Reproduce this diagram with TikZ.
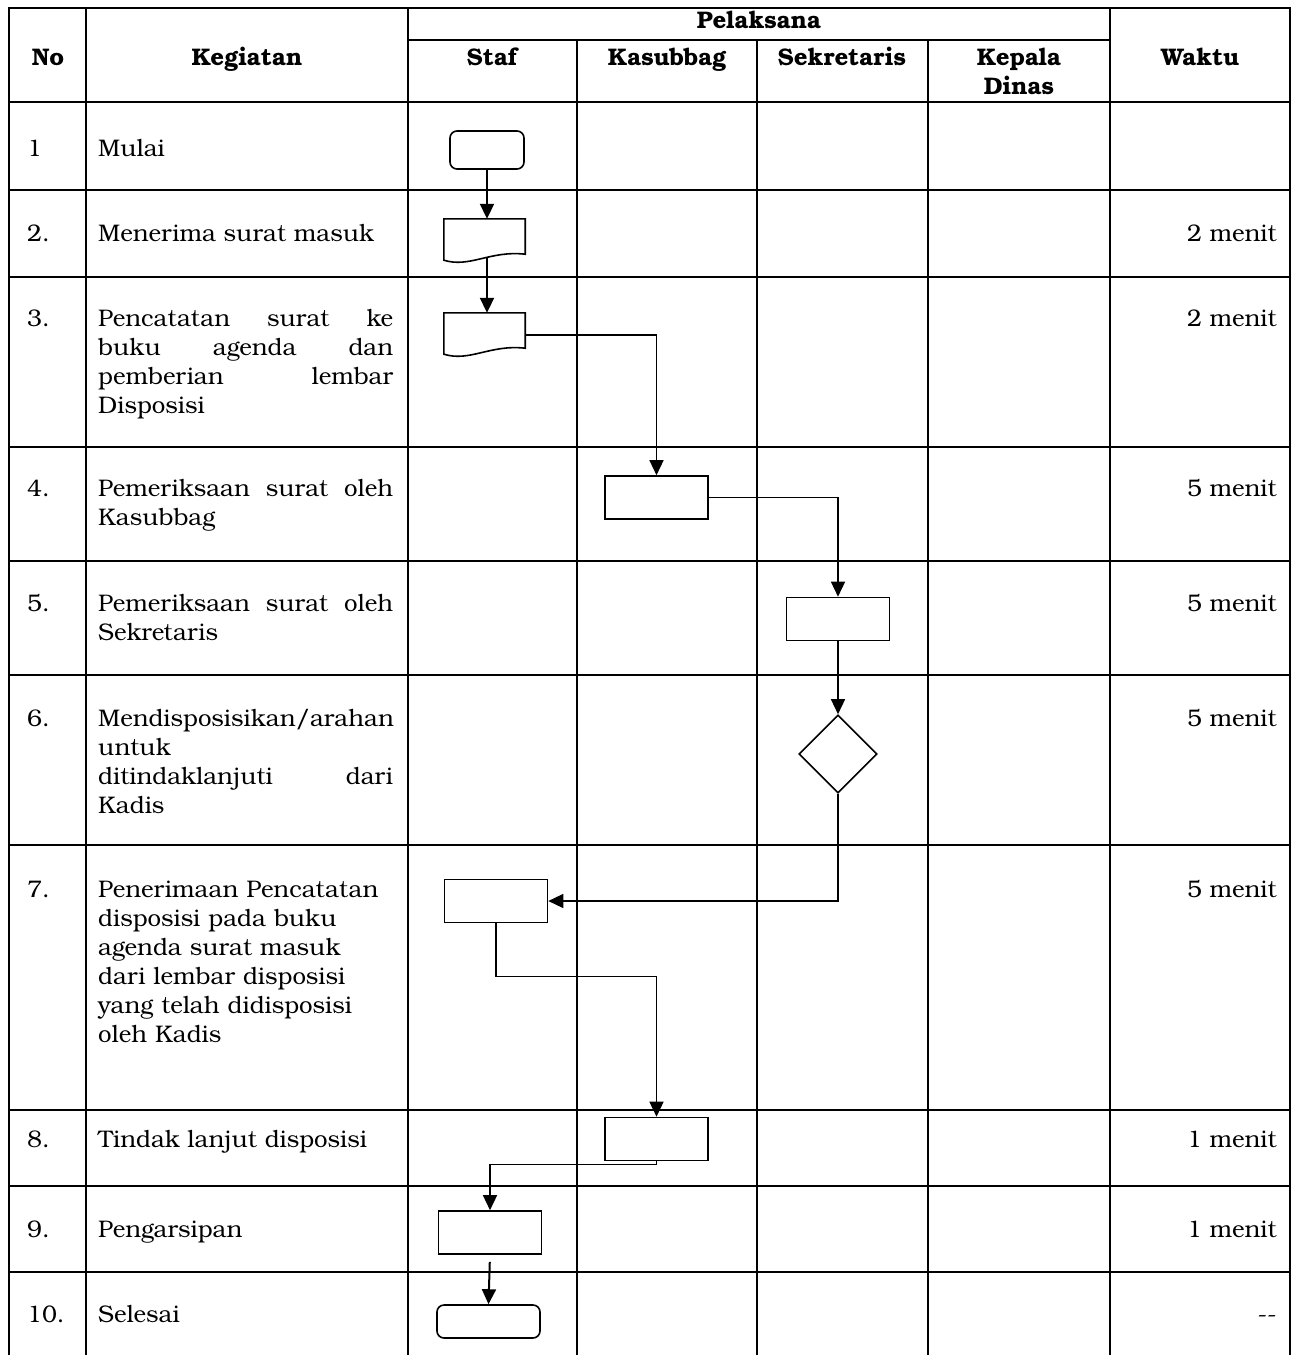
\documentclass[tikz,border=0pt]{standalone}
\usepackage{fontspec}
\setmainfont{TeX Gyre Bonum}
\usetikzlibrary{arrows.meta,shapes.geometric}

\newcommand{\cellfont}{\fontsize{24}{29}\selectfont}

\tikzset{
  gridline/.style={line width=2.4pt,line cap=rect},
  shapeline/.style={line width=1.6pt},
  procbox/.style={draw,shapeline,minimum width=103pt,minimum height=43pt,inner sep=0pt},
  termbox/.style={procbox,rounded corners=7pt},
  docbox/.style={minimum width=81pt,minimum height=44pt,inner sep=0pt},
  decbox/.style={draw,shapeline,diamond,minimum width=78pt,minimum height=78pt,inner sep=0pt},
  flowline/.style={line width=1.4pt,-{Triangle[length=15pt,width=14pt]}},
  flowthick/.style={flowline,line width=2pt},
  headtext/.style={anchor=base,inner sep=0pt,font=\cellfont\bfseries},
  notext/.style={anchor=base west,inner sep=0pt,font=\cellfont},
  kegtext/.style={anchor=base west,inner sep=0pt,text width=295pt,align=left,font=\cellfont},
  wkttext/.style={anchor=base east,inner sep=0pt,font=\cellfont}
}

\begin{document}
\begin{tikzpicture}[x=1pt,y=-1pt]
  \useasboundingbox (0,0) rectangle (1293,1355);

  % table
  \draw[gridline] (9,8) -- (1290,8);
  \draw[gridline] (408,40) -- (1110,40);
  \foreach \y in {102,190,277,447,561,675,845,1110,1186,1272}
    \draw[gridline] (9,\y) -- (1290,\y);
  \foreach \x in {9,86,408,1110,1290}
    \draw[gridline] (\x,8) -- (\x,1360);
  \foreach \x in {577,757,928}
    \draw[gridline] (\x,40) -- (\x,1360);

  % header
  \node[headtext] (hno) at (48,65) {No};
  \node[headtext] (hkeg) at (247,65) {Kegiatan};
  \node[headtext] (hpel) at (759,28) {Pelaksana};
  \node[headtext] (hstaf) at (492,65) {Staf};
  \node[headtext] (hkas) at (667,65) {Kasubbag};
  \node[headtext] (hsek) at (842,65) {Sekretaris};
  \node[headtext,align=center] (hkep) at (1019,94) {Kepala\\Dinas};
  \node[headtext] (hwkt) at (1200,65) {Waktu};

  % rows
  \foreach \i/\n/\y in {1/1/156,2/2./241,3/3./326,4/4./496,5/5./611,6/6./726,7/7./897,8/8./1147,9/9./1237,10/10./1322}
    \node[notext] (no\i) at (27,\y) {\n};

  \node[notext] (keg1) at (98,156) {Mulai};
  \node[notext] (keg2) at (98,241) {Menerima surat masuk};
  \node[kegtext] (keg3) at (98,326) {Pencatatan\hfill surat\hfill ke\\buku\hfill agenda\hfill dan\\pemberian\hfill lembar\\Disposisi};
  \node[kegtext] (keg4) at (98,496) {Pemeriksaan\hfill surat\hfill oleh\\Kasubbag};
  \node[kegtext] (keg5) at (98,611) {Pemeriksaan\hfill surat\hfill oleh\\Sekretaris};
  \node[kegtext] (keg6) at (98,726) {Mendisposisikan/arahan\\untuk\\ditindaklanjuti\hfill dari\\Kadis};
  \node[kegtext] (keg7) at (98,897) {Penerimaan Pencatatan\\disposisi pada buku\\agenda surat masuk\\dari lembar disposisi\\yang telah didisposisi\\oleh Kadis};
  \node[notext] (keg8) at (98,1147) {Tindak lanjut disposisi};
  \node[notext] (keg9) at (98,1237) {Pengarsipan};
  \node[notext] (keg10) at (98,1322) {Selesai};

  \foreach \i/\w/\y in {2/2 menit/241,3/2 menit/326,4/5 menit/496,5/5 menit/611,6/5 menit/726,7/5 menit/897,8/1 menit/1147,9/1 menit/1237,10/-{}-/1322}
    \node[wkttext] (wkt\i) at (1277,\y) {\w};

  % flow
  \node[termbox,minimum width=74pt,minimum height=38pt] (mulai) at (487,150) {};
  \node[docbox] (surat1) at (484.5,241) {};
  \node[docbox] (surat2) at (484.5,335) {};
  \foreach \d in {surat1,surat2}
    \draw[shapeline] (\d.north west) -- (\d.north east) -- ([yshift=9pt]\d.south east)
      .. controls ([xshift=-35pt,yshift=13pt]\d.south east) and ([xshift=26pt,yshift=-5pt]\d.south west) .. ([yshift=3pt]\d.south west) -- cycle;
  \node[procbox] (periksa1) at (656.5,497.5) {};
  \node[procbox] (periksa2) at (838,619) {};
  \node[decbox] (dispo) at (838,754) {};
  \node[procbox] (catat) at (496,901) {};
  \node[procbox] (tindak) at (656.5,1139) {};
  \node[procbox] (arsip) at (490,1232.5) {};
  \node[termbox,minimum height=33pt] (selesai) at (488.5,1321.5) {};

  \draw[flowthick] (mulai.south) -- (mulai.south |- surat1.north);
  \draw[flowthick] ([xshift=2.5pt,yshift=5pt]surat1.south) -- ([xshift=2.5pt]surat1.south |- surat2.north);
  \draw[flowline] (surat2.east) -| (periksa1.north);
  \draw[flowline] (periksa1.east) -| (periksa2.north);
  \draw[flowline] (periksa2.south) -- (dispo.north);
  \draw[flowline] (dispo.south) |- (catat.east);
  \draw[flowline] (catat.south) -- ++(0,53) -| (tindak.north);
  \draw[flowline] (tindak.south) -- ++(0,3) -| (arsip.north);
  \draw[flowthick,shorten <=7pt] (arsip.south) -- (selesai.north);

\end{tikzpicture}
\end{document}
